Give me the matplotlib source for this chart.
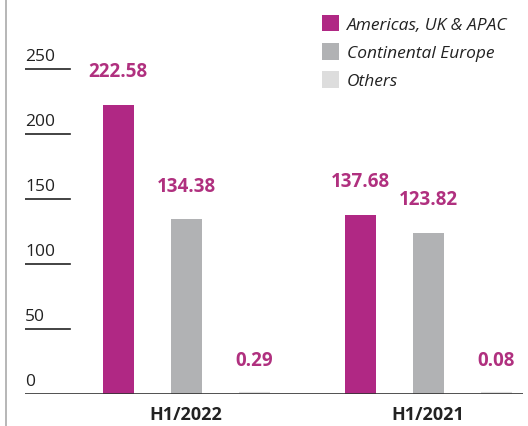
import matplotlib
matplotlib.use("Agg")
import matplotlib.pyplot as plt
import matplotlib.transforms as mtransforms
from matplotlib.lines import Line2D
from matplotlib.patches import Patch
import numpy as np

plt.rcParams["font.family"] = ["Open Sans", "DejaVu Sans"]

periods = ["H1/2022", "H1/2021"]
series = ["Americas, UK & APAC", "Continental Europe", "Others"]
values = {
    "Americas, UK & APAC": [222.58, 137.68],
    "Continental Europe": [134.38, 123.82],
    "Others": [0.29, 0.08],
}
labels = {
    "Americas, UK & APAC": ["222.58", "137.68"],
    "Continental Europe": ["134.38", "123.82"],
    "Others": ["0.29", "0.08"],
}
yticks = [0, 50, 100, 150, 200, 250]

colors = ["#B02884", "#B1B2B4", "#DDDDDD"]
label_color = "#B0307F"
text_color = "#222222"

W, H = 528, 427
fig = plt.figure(figsize=(W / 100, H / 100), dpi=100)
left_px, right_px, base_px = 25, 523, 395
ax = fig.add_axes([left_px / W, (H - base_px) / H, (right_px - left_px) / W, base_px / H])

px_per_unit = 1.3
ax.set_ylim(0, base_px / px_per_unit)
gap = 242.0
ax.set_xlim(-(186 - left_px) / gap, 1 + (right_px - 428) / gap)

x = np.arange(len(periods))
step = 68 / gap
width = 31 / gap
for i, name in enumerate(series):
    xs = x + (i - 1) * step
    ax.bar(xs, values[name], width, color=colors[i], edgecolor=colors[i],
           linewidth=3 if name == "Others" else 0)
    for xi, v, lab in zip(xs, values[name], labels[name]):
        ax.annotate(lab, (xi, v), xytext=(0, 17), textcoords="offset points",
                    ha="center", va="bottom", color=label_color,
                    fontsize=13.5, fontweight="bold")

for s in ax.spines.values():
    s.set_visible(False)
ax.set_xticks([])
ax.set_yticks([])

ax.axhline(0, color="#333333", linewidth=1.2)

trans = mtransforms.blended_transform_factory(ax.transAxes, ax.transData)
for t in yticks[1:]:
    ax.plot([0, 45 / (right_px - left_px)], [t, t], color="#222222",
            linewidth=1.2, transform=trans)
for t in yticks:
    ax.annotate(str(t), (0, t), xytext=(0, 3.5), textcoords="offset points",
                xycoords=trans, ha="left", va="bottom", color=text_color,
                fontsize=12.5)

for xi, p in zip(x, periods):
    ax.annotate(p, (xi, 0), xytext=(0, -8), textcoords="offset points",
                ha="center", va="top", color=text_color, fontsize=13,
                fontweight="bold")

fig.add_artist(Line2D([6 / W, 6 / W], [0, 1], color="#AAAAAA", linewidth=1.2))

handles = [Patch(facecolor=c, edgecolor="none") for c in colors]
leg = fig.legend(handles, series, loc="upper left", bbox_to_anchor=(306 / W, 1),
                 frameon=False, handlelength=1.0, handleheight=1.1,
                 handletextpad=0.45, labelspacing=0.58, fontsize=12.5)
for t in leg.get_texts():
    t.set_fontstyle("italic")
    t.set_color(text_color)

fig.savefig("out.png", dpi=100)
